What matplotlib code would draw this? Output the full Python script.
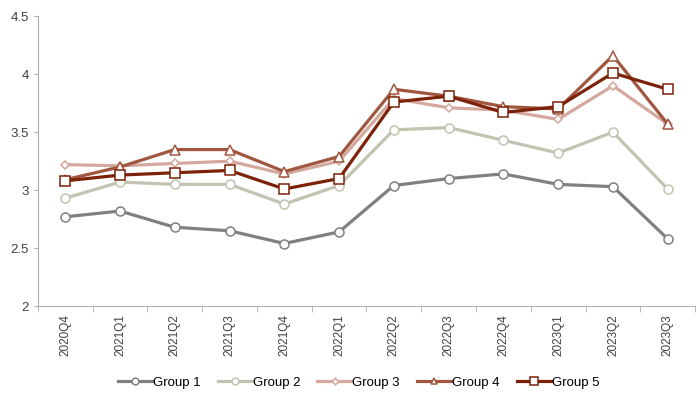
import matplotlib
matplotlib.use("Agg")
import matplotlib.pyplot as plt
import numpy as np

plt.rcParams["font.family"] = ["Liberation Sans", "DejaVu Sans"]

quarters = ["2020Q4", "2021Q1", "2021Q2", "2021Q3", "2021Q4", "2022Q1",
            "2022Q2", "2022Q3", "2022Q4", "2023Q1", "2023Q2", "2023Q3"]

group1 = [2.77, 2.82, 2.68, 2.65, 2.54, 2.64, 3.04, 3.10, 3.14, 3.05, 3.03, 2.58]
group2 = [2.93, 3.07, 3.05, 3.05, 2.88, 3.04, 3.52, 3.54, 3.43, 3.32, 3.50, 3.01]
group3 = [3.22, 3.21, 3.23, 3.25, 3.14, 3.25, 3.79, 3.71, 3.69, 3.61, 3.90, 3.57]
group4 = [3.09, 3.20, 3.35, 3.35, 3.16, 3.29, 3.87, 3.81, 3.72, 3.70, 4.16, 3.57]
group5 = [3.08, 3.13, 3.15, 3.17, 3.01, 3.10, 3.76, 3.81, 3.67, 3.72, 4.01, 3.87]

names = ["Group 1", "Group 2", "Group 3", "Group 4", "Group 5"]
colors = ["#808080", "#c3c3b1", "#d5a89e", "#a0563f", "#7b2208"]
markers = ["o", "o", "D", "^", "s"]
msizes = [6.5, 6.5, 4.5, 6.5, 7]

fig = plt.figure(figsize=(7, 3.95), dpi=100)
ax = fig.add_axes([0.054, 0.225, 0.939, 0.734])

x = np.arange(len(quarters))
for vals, name, c, m, ms in zip([group1, group2, group3, group4, group5],
                                names, colors, markers, msizes):
    ax.plot(x, vals, color=c, lw=2.3, marker=m, ms=ms, mfc="white",
            mec=c, mew=1.1, label=name)

ax.set_xlim(-0.5, len(quarters) - 0.5)
ax.set_ylim(2, 4.5)
ax.set_yticks([2, 2.5, 3, 3.5, 4, 4.5])
ax.set_yticklabels(["2", "2.5", "3", "3.5", "4", "4.5"])
ax.set_xticks(x)
ax.set_xticklabels(quarters, rotation=90)
ax.set_xticks(np.arange(-0.5, len(quarters)), minor=True)
ax.tick_params(axis="x", which="major", length=0, pad=6, labelsize=8.5, labelcolor="#404040")
ax.tick_params(axis="x", which="minor", length=4, color="#b0b0b0")
ax.tick_params(axis="y", length=3, color="#b0b0b0", labelsize=9.5, labelcolor="#404040")

for s in ["top", "right"]:
    ax.spines[s].set_visible(False)
for s in ["left", "bottom"]:
    ax.spines[s].set_color("#b0b0b0")

ax.legend(loc="center", bbox_to_anchor=(0.488, -0.265), ncol=5, frameon=False,
          fontsize=9.5, handlelength=2.6, handletextpad=0.05, columnspacing=1.3,
          markerscale=0.75)

plt.savefig("out.png", dpi=100)
